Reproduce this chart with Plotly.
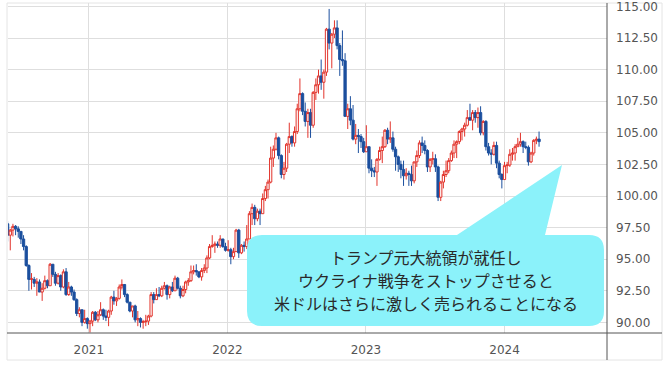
import plotly.graph_objects as go
import pandas as pd

# ---------------- data (weekly US Dollar Index candles) ----------------
first_week = "2020-06-01"

open_ = [
    97.8, 96.9, 97.3, 97.6, 97.4, 97.2, 96.6, 96.0, 94.5, 93.4, 93.4, 93.1, 93.2, 92.4, 92.7, 93.3,
    92.9, 94.6, 93.8, 93.1, 93.7, 92.8, 94.0, 92.2, 92.8, 92.4, 91.8, 90.7, 91.0, 90.0, 90.3,
    89.9, 90.1, 90.8, 90.2, 90.6, 91.0, 90.5, 90.4, 90.9, 92.0, 91.7, 91.9, 92.8, 93.0, 92.2, 91.6,
    90.9, 91.3, 90.2, 90.3, 90.0, 90.05, 90.1, 90.5, 92.2, 91.8, 92.2, 92.1, 92.7, 92.9, 92.2, 92.8,
    92.5, 93.5, 92.7, 92.1, 92.6, 93.2, 93.3, 94.0, 94.1, 94.0, 93.6, 94.1, 94.3, 95.1, 96.0, 96.1,
    96.2, 96.1, 96.6, 96.0,
    95.7, 95.75, 95.2, 95.6, 97.3, 95.5, 96.1, 96.0, 96.6, 98.6, 99.1, 98.2, 98.8, 98.6, 99.8, 100.5,
    101.1, 103.0, 103.7, 104.6, 103.2, 101.7, 102.2, 104.1, 104.7, 104.2, 105.1, 106.9, 108.1, 106.7,
    105.9, 106.6, 105.6, 108.2, 108.8, 109.5, 109.0, 109.8, 113.2, 112.1, 112.8, 113.3, 111.9, 110.8,
    110.7, 106.3, 106.9, 106.0, 104.5, 104.8, 104.7, 104.3,
    103.5, 103.9, 102.2, 102.0, 101.9, 102.9, 103.6, 103.9, 105.2, 104.5, 104.6, 103.7, 103.1, 102.5,
    102.1, 101.6, 101.8, 101.7, 101.2, 102.7, 103.2, 104.2, 104.0, 103.6, 102.3, 102.9, 102.95, 102.3,
    99.9, 101.1, 101.7, 102.0, 102.8, 103.4, 104.1, 104.3, 105.1, 105.3, 105.6, 106.2, 106.0, 106.6,
    106.2, 106.6, 105.0, 105.9, 103.9, 103.4, 103.3, 104.0, 102.6, 101.7,
    101.3, 102.4, 102.45, 103.3, 103.4, 103.9, 104.1, 104.3, 103.9, 103.85, 102.7, 103.4, 104.4, 104.5,
]
high = [
    98.0, 97.4, 97.8, 97.7, 97.6, 97.2, 96.9, 96.1, 94.6, 93.9, 93.6, 93.5, 93.4, 93.1, 93.7, 93.4,
    94.7, 94.6, 94.0, 93.9, 93.8, 94.2, 94.3, 93.2, 92.9, 92.6, 91.9, 91.2, 91.0, 91.0, 90.4,
    90.2, 90.9, 90.9, 90.9, 91.6, 91.1, 91.0, 91.0, 92.1, 92.5, 92.0, 93.0, 93.4, 93.0, 92.3, 91.6,
    91.3, 91.4, 90.9, 90.4, 90.2, 90.6, 90.6, 92.4, 92.4, 92.7, 92.8, 92.9, 93.2, 93.0, 92.9, 93.2,
    93.7, 93.6, 92.9, 92.9, 93.3, 93.5, 94.5, 94.5, 94.6, 94.0, 94.3, 94.6, 95.3, 96.2, 96.9, 96.4,
    96.4, 96.9, 96.6, 96.3,
    96.5, 95.9, 95.9, 97.4, 97.4, 96.2, 96.4, 97.7, 98.8, 99.4, 99.3, 99.0, 99.0, 100.2, 100.8, 101.3,
    103.9, 104.0, 105.0, 104.7, 103.3, 102.7, 104.2, 105.8, 104.8, 105.5, 107.3, 109.3, 108.2, 107.4,
    106.9, 106.9, 108.3, 109.3, 110.0, 110.8, 110.0, 113.3, 114.8, 112.9, 113.9, 113.9, 112.1, 113.1,
    111.3, 107.3, 107.9, 107.2, 105.7, 105.3, 104.9, 104.6,
    105.6, 103.9, 102.9, 102.3, 103.0, 103.9, 104.7, 105.3, 105.4, 105.9, 105.1, 103.9, 103.2, 102.8,
    102.8, 102.2, 102.0, 102.4, 102.7, 103.6, 104.4, 104.7, 104.4, 103.7, 103.0, 103.5, 103.3, 102.4,
    101.2, 102.0, 102.8, 103.0, 103.6, 104.4, 104.4, 105.2, 105.4, 105.8, 106.8, 107.3, 106.8, 106.8,
    107.0, 107.1, 106.0, 106.0, 104.2, 103.7, 104.3, 104.3, 102.8, 101.8,
    102.7, 102.7, 103.7, 103.8, 104.1, 104.6, 105.0, 104.4, 104.3, 104.0, 103.5, 104.5, 104.7, 105.1,
]
low = [
    96.4, 95.7, 96.8, 96.9, 96.7, 96.2, 95.7, 94.4, 92.5, 92.6, 92.8, 92.1, 92.4, 91.7, 92.6, 92.7,
    92.9, 93.6, 92.9, 93.0, 92.5, 92.7, 92.1, 92.1, 92.1, 91.7, 90.5, 90.4, 89.7, 89.9, 89.5,
    89.2, 89.7, 90.1, 90.0, 90.5, 90.2, 90.1, 89.7, 90.6, 91.4, 91.3, 91.8, 92.6, 92.0, 91.5, 90.8,
    90.4, 90.0, 89.7, 89.6, 89.5, 89.7, 89.8, 90.4, 91.5, 91.8, 92.0, 92.0, 92.6, 91.8, 91.9, 92.4,
    92.5, 92.6, 91.9, 92.0, 92.3, 92.9, 93.2, 93.8, 93.7, 93.5, 93.3, 93.9, 93.9, 95.0, 95.9, 95.5,
    95.9, 95.9, 95.9, 95.6,
    95.6, 94.6, 95.0, 95.6, 95.1, 95.4, 95.6, 95.8, 96.6, 97.7, 97.7, 98.0, 97.7, 98.6, 99.6, 99.8,
    101.0, 102.3, 103.6, 102.9, 101.4, 101.3, 101.9, 103.4, 103.9, 103.9, 104.9, 106.7, 106.4, 105.5,
    104.6, 104.6, 105.4, 107.6, 108.1, 108.4, 107.7, 109.5, 111.6, 110.1, 112.5, 111.6, 109.5, 110.3,
    106.3, 105.3, 105.6, 104.4, 104.1, 103.4, 103.8, 103.4,
    103.5, 101.8, 101.5, 101.5, 100.8, 102.8, 102.6, 103.8, 104.1, 104.2, 103.5, 102.0, 101.9, 101.4,
    100.8, 101.3, 100.8, 100.8, 101.0, 102.3, 103.0, 103.4, 103.3, 101.9, 101.9, 102.5, 101.9, 99.6,
    99.6, 100.6, 101.5, 101.8, 102.7, 103.0, 103.0, 104.1, 104.4, 104.7, 105.5, 106.0, 105.2, 105.8,
    105.4, 104.8, 104.8, 103.6, 103.2, 102.5, 103.2, 102.2, 101.4, 100.6,
    101.3, 101.8, 102.3, 102.8, 102.8, 103.9, 103.9, 103.4, 103.7, 102.4, 102.6, 103.2, 104.1, 103.9,
]
close = [
    96.9, 97.3, 97.6, 97.4, 97.2, 96.6, 96.0, 94.5, 93.4, 93.45, 93.1, 93.2, 92.4, 92.7, 93.3, 92.9,
    94.6, 93.8, 93.1, 93.7, 92.8, 94.0, 92.2, 92.8, 92.4, 91.8, 90.7, 91.0, 90.0, 90.3, 89.9,
    90.1, 90.8, 90.2, 90.6, 91.0, 90.5, 90.4, 90.9, 92.0, 91.7, 91.9, 92.8, 93.0, 92.2, 91.6, 90.9,
    91.3, 90.2, 90.3, 90.0, 90.05, 90.1, 90.5, 92.2, 91.8, 92.2, 92.1, 92.7, 92.9, 92.2, 92.8, 92.5,
    93.5, 92.7, 92.1, 92.6, 93.2, 93.3, 94.0, 94.1, 94.0, 93.6, 94.1, 94.3, 95.1, 96.0, 96.1, 96.2,
    96.1, 96.6, 96.0, 95.7,
    95.75, 95.2, 95.6, 97.3, 95.5, 96.1, 96.0, 96.6, 98.6, 99.1, 98.2, 98.8, 98.6, 99.8, 100.5, 101.1,
    103.0, 103.7, 104.6, 103.2, 101.7, 102.2, 104.1, 104.7, 104.2, 105.1, 106.9, 108.1, 106.7, 105.9,
    106.6, 105.6, 108.2, 108.8, 109.5, 109.0, 109.8, 113.2, 112.1, 112.8, 113.3, 111.9, 110.8, 110.7,
    106.3, 106.9, 106.0, 104.5, 104.8, 104.7, 104.3, 103.5,
    103.9, 102.2, 102.0, 101.9, 102.9, 103.6, 103.9, 105.2, 104.5, 104.6, 103.7, 103.1, 102.5, 102.1,
    101.6, 101.8, 101.7, 101.2, 102.7, 103.2, 104.2, 104.0, 103.6, 102.3, 102.9, 102.95, 102.3, 99.9,
    101.1, 101.7, 102.0, 102.8, 103.4, 104.1, 104.3, 105.1, 105.3, 105.6, 106.2, 106.0, 106.6, 106.2,
    106.6, 105.0, 105.9, 103.9, 103.4, 103.3, 104.0, 102.6, 101.7, 101.3,
    102.4, 102.45, 103.3, 103.4, 103.9, 104.1, 104.3, 103.9, 103.85, 102.7, 103.4, 104.4, 104.5, 104.3,
]
weeks = pd.date_range(first_week, periods=len(close), freq="7D")

year_ticks = ["2021-01-01", "2022-01-01", "2023-01-01", "2024-01-01"]
year_labels = ["2021", "2022", "2023", "2024"]
price_ticks = [90.0, 92.5, 95.0, 97.5, 100.0, 102.5, 105.0, 107.5, 110.0, 112.5, 115.0]
price_labels = ["90.00", "92.50", "95.00", "97.50", "100.00", "102.50", "105.00",
                "107.50", "110.00", "112.50", "115.00"]
callout_lines = ["トランプ元大統領が就任し",
                 "ウクライナ戦争をストップさせると",
                 "米ドルはさらに激しく売られることになる"]

# ---------------- layout geometry (pixels) ----------------
W, H = 665, 366
PL, PR, PT, PB = 8, 607, 3, 333  # plot area


def px(x):
    return (x - PL) / (PR - PL)


def py(y):
    return (PB - y) / (PB - PT)


UP = "#e2332b"
DOWN = "#1b4f9e"

fig = go.Figure()
fig.add_trace(go.Candlestick(
    x=weeks, open=open_, high=high, low=low, close=close,
    increasing=dict(line=dict(color=UP, width=1), fillcolor="#ffffff"),
    decreasing=dict(line=dict(color=DOWN, width=1), fillcolor=DOWN),
    whiskerwidth=0, showlegend=False, hoverinfo="skip",
))

# callout bubble path
L_, R_, T_, B_, r = 247, 604, 235, 326, 15
pts = [
    ("M", (L_ + r, T_)), ("L", (457, T_)), ("L", (562, 165)), ("L", (545, T_)),
    ("L", (R_ - r, T_)), ("Q", (R_, T_), (R_, T_ + r)), ("L", (R_, B_ - r)),
    ("Q", (R_, B_), (R_ - r, B_)), ("L", (L_ + r, B_)), ("Q", (L_, B_), (L_, B_ - r)),
    ("L", (L_, T_ + r)), ("Q", (L_, T_), (L_ + r, T_)),
]
path = ""
for item in pts:
    cmd = item[0]
    coords = " ".join(f"{px(p[0]):.5f},{py(p[1]):.5f}" for p in item[1:])
    path += f"{cmd} {coords} "
path += "Z"

shapes = [
    dict(type="rect", xref="paper", yref="paper", x0=px(7), x1=px(662), y0=py(3), y1=py(360),
         line=dict(color="#e4e4e4", width=1), fillcolor="rgba(0,0,0,0)", layer="below"),
    dict(type="line", xref="paper", yref="paper", x0=px(607), x1=px(607), y0=py(3), y1=py(360),
         line=dict(color="#555555", width=1)),
    dict(type="line", xref="paper", yref="paper", x0=px(7), x1=px(662), y0=py(333), y1=py(333),
         line=dict(color="#555555", width=1)),
    dict(type="path", xref="paper", yref="paper", path=path, fillcolor="#8bf2fa",
         line=dict(width=0), layer="above"),
]

annotations = []
for i, line in enumerate(callout_lines):
    annotations.append(dict(
        xref="paper", yref="paper", x=px(426), y=py(257 + 23 * i), text=line,
        showarrow=False, xanchor="center", yanchor="middle",
        font=dict(family="Noto Sans CJK JP", size=16, color="#2a2a2a"),
    ))

fig.update_layout(
    width=W, height=H,
    margin=dict(l=PL, r=W - PR, t=PT, b=H - PB, pad=0, autoexpand=False),
    paper_bgcolor="#ffffff", plot_bgcolor="#ffffff",
    shapes=shapes, annotations=annotations,
    boxgap=0.15, boxgroupgap=0,
    xaxis=dict(
        type="date", range=["2020-06-02", "2024-09-27"], rangeslider=dict(visible=False),
        tickmode="array", tickvals=year_ticks, ticktext=year_labels, automargin=False,
        showgrid=True, gridcolor="#dedede", gridwidth=1, zeroline=False, showline=False,
        ticks="", ticklabelstandoff=8,
        tickfont=dict(family="DejaVu Sans", size=12, color="#555555"),
    ),
    yaxis=dict(
        side="right", range=[89.16, 115.27], tickmode="array", tickvals=price_ticks,
        ticktext=price_labels, showgrid=True, gridcolor="#dedede", gridwidth=1, automargin=False,
        zeroline=False, showline=False, ticks="", ticklabelstandoff=8,
        ticklabeloverflow="allow",
        tickfont=dict(family="DejaVu Sans", size=12, color="#555555"),
    ),
    hovermode=False,
)

fig.write_html(
    "out.html",
    config=dict(displayModeBar=False),
    post_script="document.body.style.margin='0px';document.body.style.overflow='hidden';",
)
